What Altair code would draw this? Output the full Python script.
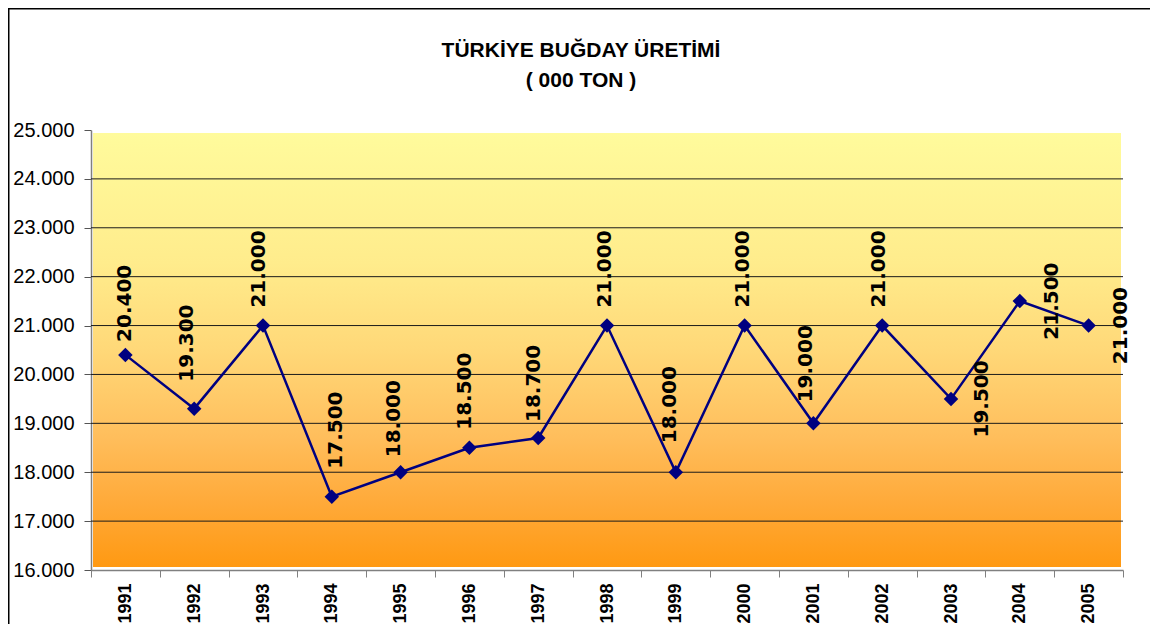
import altair as alt
import pandas as pd

# ---- data ----
years = [1991, 1992, 1993, 1994, 1995, 1996, 1997, 1998, 1999, 2000, 2001, 2002, 2003, 2004, 2005]
production = [20400, 19300, 21000, 17500, 18000, 18500, 18700, 21000, 18000, 21000, 19000, 21000, 19500, 21500, 21000]
y_ticks = [16000, 17000, 18000, 19000, 20000, 21000, 22000, 23000, 24000, 25000]
grid_values = [17000, 18000, 19000, 20000, 21000, 22000, 23000, 24000]
title_lines = ["TÜRKİYE BUĞDAY ÜRETİMİ", "( 000 TON )"]

# label placement (as nudged in the original chart)
label_side = ["above"] * 12 + ["right"] * 3
label_gap = [13, 27, 18, 28, 15, 18, 16, 18, 29, 18, 21, 18, 0, 0, 0]
label_shift = [0, -7, -4, 4, -7, -4, -4, -2, -6, -2, -7, -3, 31, 32, 32]

W, H = 1032, 440
df = pd.DataFrame({"year": years, "value": production})

xenc = alt.X("year:O", scale=alt.Scale(type="band", paddingInner=0, paddingOuter=0),
             axis=alt.Axis(title=None, labelAngle=-90, labelFont="Liberation Sans", labelFontWeight="bold",
                           labelFontSize=18, labelColor="black", tickBand="extent", tickSize=7,
                           tickColor="#808080", domainColor="#808080", domainWidth=1.5,
                           labelPadding=6, grid=False))
yscale = alt.Scale(domain=[16000, 25000], nice=False, zero=False)
yaxis = alt.Axis(title=None, values=y_ticks, labelExpr="replace(format(datum.value, ','), ',', '.')",
                 labelFont="Liberation Sans", labelFontSize=20, labelColor="black",
                 tickSize=7, tickColor="#555555", domainColor="#808080", domainWidth=1.5,
                 labelPadding=10, grid=False)
yenc = alt.Y("value:Q", scale=yscale, axis=yaxis)

base = alt.Chart(df)

frame = alt.Chart(pd.DataFrame({"k": [0]})).mark_rect(
    fillOpacity=0, stroke="black", strokeWidth=1.5, clip=False
).encode(x=alt.value(-82.25), x2=alt.value(W + 40), y=alt.value(-121.25), y2=alt.value(H + 200))

background = alt.Chart(pd.DataFrame({"k": [0]})).mark_rect(
    fill=alt.Gradient(gradient="linear", x1=0, x2=0, y1=0, y2=1,
                      stops=[alt.GradientStop(color="#FFFB9C", offset=0),
                             alt.GradientStop(color="#FFEC8C", offset=0.3),
                             alt.GradientStop(color="#FFD878", offset=0.5),
                             alt.GradientStop(color="#FFBE5C", offset=0.7),
                             alt.GradientStop(color="#FFAA3A", offset=0.85),
                             alt.GradientStop(color="#FF9912", offset=1)])
).encode(x=alt.value(2), x2=alt.value(W - 2), y=alt.value(3), y2=alt.value(H - 3))

grid = alt.Chart(pd.DataFrame({"value": grid_values})).mark_rule(color="#1a1a1a", strokeWidth=1).encode(
    y=yenc
)

line = base.mark_line(color="#000080", strokeWidth=2.5).encode(x=xenc, y=yenc)
points = base.mark_point(shape="diamond", filled=True, size=210, color="#000080", opacity=1).encode(
    x=alt.X("year:O"), y=alt.Y("value:Q"))

label_layers = []
for yr, side, gap, shift in zip(years, label_side, label_gap, label_shift):
    if side == "above":
        mk = dict(angle=270, align="left", baseline="middle", dx=gap, dy=shift)
    else:
        mk = dict(angle=270, align="center", baseline="middle", dx=0, dy=shift)
    label_layers.append(
        base.transform_filter(alt.datum.year == yr)
        .transform_calculate(lbl="replace(format(datum.value, ','), ',', '.')")
        .mark_text(font="DejaVu Sans", fontWeight="bold", fontSize=20, color="black", **mk)
        .encode(x=alt.X("year:O"), y=alt.Y("value:Q"), text="lbl:N")
    )

title1 = alt.Chart(pd.DataFrame({"t": [title_lines[0]]})).mark_text(
    font="Liberation Sans", fontWeight="bold", fontSize=21, color="black",
    align="center", baseline="alphabetic"
).encode(text="t:N", x=alt.value(490), y=alt.value(-73.5))
title2 = alt.Chart(pd.DataFrame({"t": [title_lines[1]]})).mark_text(
    font="Liberation Sans", fontWeight="bold", fontSize=21, color="black",
    align="center", baseline="alphabetic"
).encode(text="t:N", x=alt.value(490), y=alt.value(-43.5))

chart = alt.layer(
    frame, background, grid, line, points, *label_layers, title1, title2
).properties(
    width=W, height=H,
    autosize=alt.AutoSizeParams(type="none"),
    padding={"left": 83, "top": 122, "right": 27, "bottom": 54},
    background="white",
).configure_view(stroke=None)

chart.save("out.html", embed_options={"renderer": "svg", "actions": False})
